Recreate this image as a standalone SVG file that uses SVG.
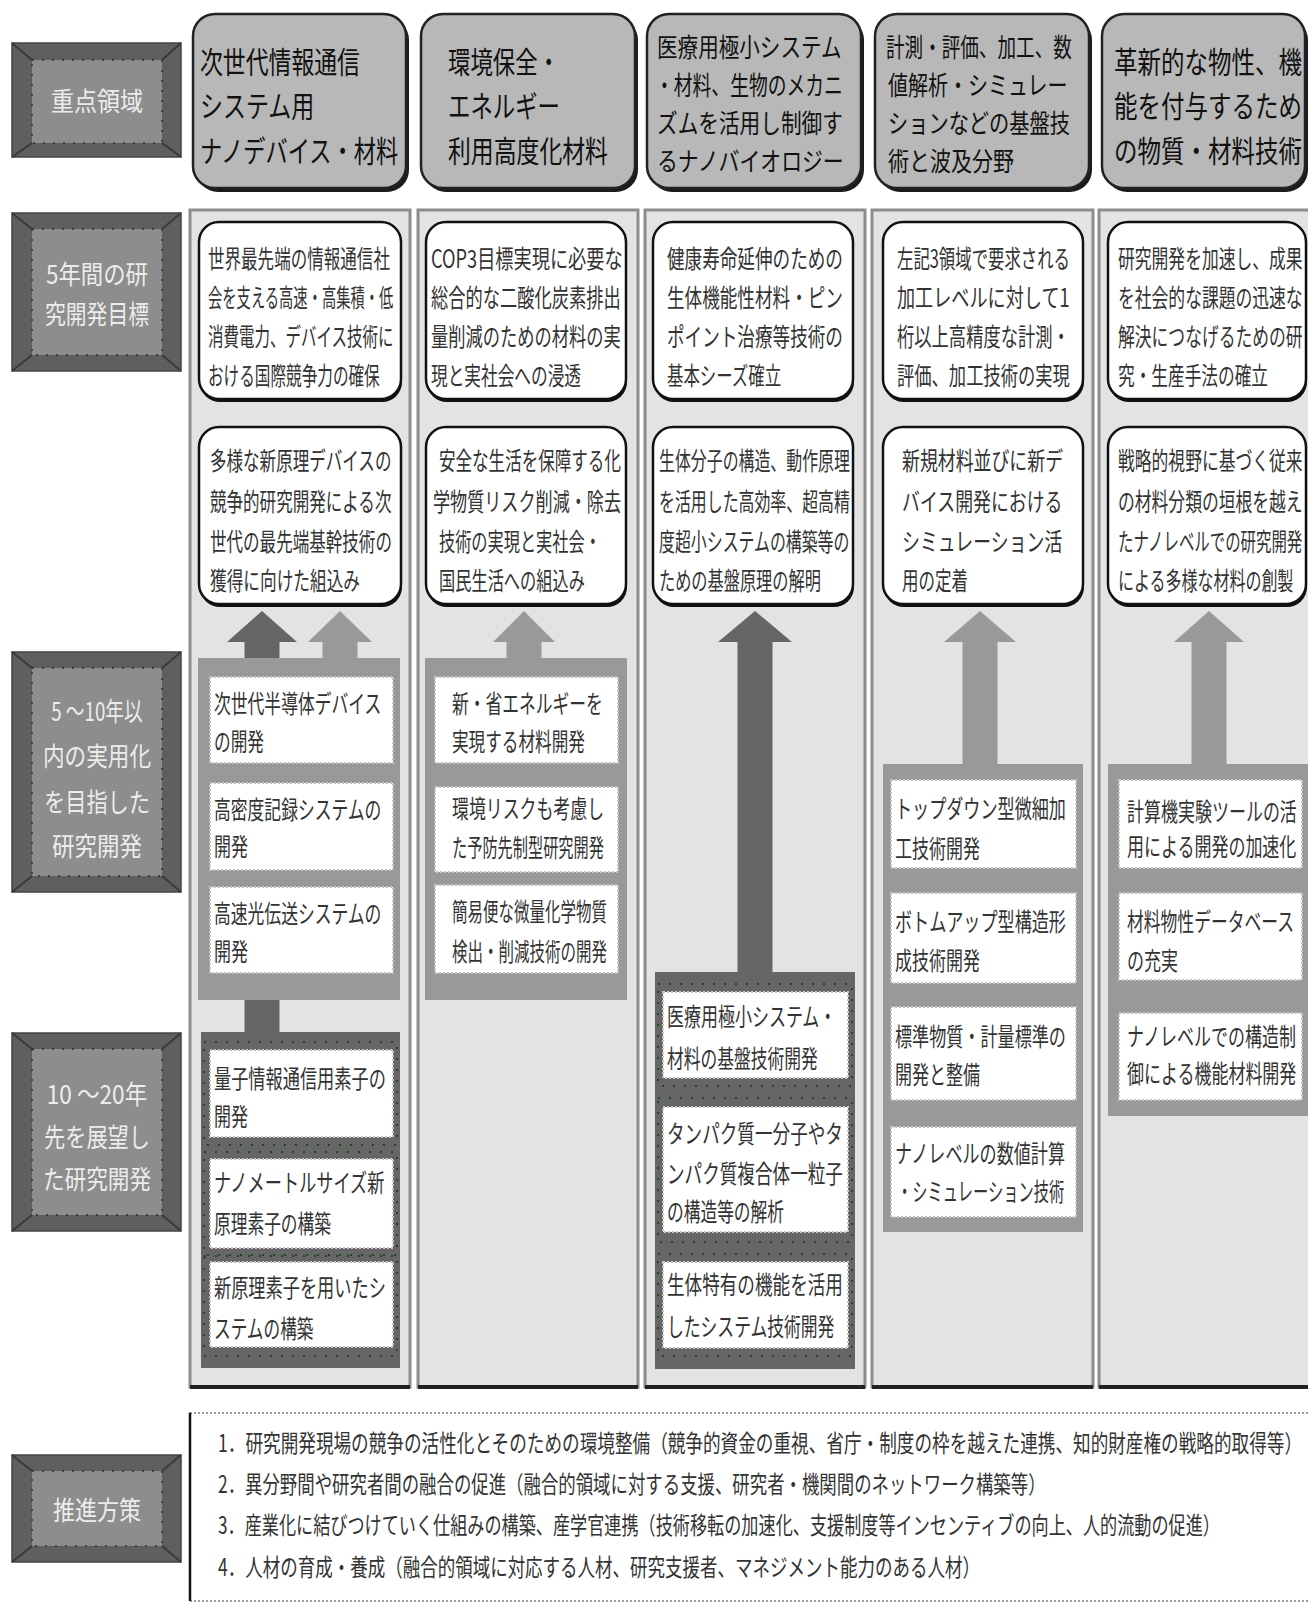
<svg xmlns="http://www.w3.org/2000/svg" width="1308" height="1608" viewBox="0 0 1308 1608">
<style>
.t{font-family:"Noto Sans CJK JP","Noto Sans CJK SC","Liberation Sans",sans-serif;fill:#262626;dominant-baseline:central}
.h{font-size:30px;fill:#111}
.h4{font-size:26px;fill:#111}
.g{font-size:25px;fill:#333}
.i{font-size:25px;fill:#333}
.b{font-size:24px;fill:#333}
.lt{font-size:26px;fill:#ececec;text-anchor:middle}
.lo{fill:#5f5f5f;stroke:#444;stroke-width:1.5}
.li{fill:#8d8d8d;stroke:#1e3e1e;stroke-width:1.5;stroke-dasharray:2 8}
.lb{stroke:#3a3a3a;stroke-width:2;fill:none}
.hs{fill:#1c1c1c}
.hb{fill:#b8b8b8;stroke:#222;stroke-width:2.5}
.col{fill:#e3e3e3;stroke:#8c8c8c;stroke-width:3}
.colb{stroke:#222;stroke-width:4}
.gs{fill:#111}
.gb{fill:#fff;stroke:#111;stroke-width:2.5}
.lp{fill:#999}
.dp{fill:#666}
.it{fill:#fff;stroke:#c4c4c4;stroke-width:2;stroke-dasharray:2 2}
.dd{fill:none;stroke:#1f4a1f;stroke-width:2;stroke-dasharray:2 9}
.ad{fill:#666}
.al{fill:#999}
.bx{fill:#fff;stroke:#9a9a9a;stroke-width:2;stroke-dasharray:2 2}
</style>

<!-- Left row labels -->
<g id="label-juten">
<rect class="lo" x="12" y="43" width="169" height="114"/>
<rect class="li" x="32" y="60" width="130" height="83"/>
<path class="lb" d="M12 43L32 60M181 43L162 60M12 157L32 143M181 157L162 143"/>
<text class="t lt" transform="translate(97,100) scale(0.885,1)">重点領域</text>
</g>
<g id="label-5nen">
<rect class="lo" x="12" y="213" width="169" height="158"/>
<rect class="li" x="32" y="229" width="130" height="126"/>
<path class="lb" d="M12 213L32 229M181 213L162 229M12 371L32 355M181 371L162 355"/>
<text class="t lt" transform="translate(97,273) scale(0.862,1)">5年間の研</text>
<text class="t lt" transform="translate(97,313) scale(0.8,1)">究開発目標</text>
</g>
<g id="label-5-10">
<rect class="lo" x="12" y="652" width="169" height="240"/>
<rect class="li" x="32" y="668" width="130" height="208"/>
<path class="lb" d="M12 652L32 668M181 652L162 668M12 892L32 876M181 892L162 876"/>
<text class="t lt" transform="translate(97,710) scale(0.72,1)">5 〜10年以</text>
<text class="t lt" transform="translate(97,755) scale(0.831,1)">内の実用化</text>
<text class="t lt" transform="translate(97,800) scale(0.815,1)">を目指した</text>
<text class="t lt" transform="translate(97,845) scale(0.865,1)">研究開発</text>
</g>
<g id="label-10-20">
<rect class="lo" x="12" y="1033" width="169" height="198"/>
<rect class="li" x="32" y="1049" width="130" height="166"/>
<path class="lb" d="M12 1033L32 1049M181 1033L162 1049M12 1231L32 1215M181 1231L162 1215"/>
<text class="t lt" transform="translate(97,1093) scale(0.87,1)">10 〜20年</text>
<text class="t lt" transform="translate(97,1135) scale(0.815,1)">先を展望し</text>
<text class="t lt" transform="translate(97,1178) scale(0.831,1)">た研究開発</text>
</g>
<g id="label-suishin">
<rect class="lo" x="12" y="1455" width="169" height="107"/>
<rect class="li" x="32" y="1471" width="130" height="75"/>
<path class="lb" d="M12 1455L32 1471M181 1455L162 1471M12 1562L32 1546M181 1562L162 1546"/>
<text class="t lt" transform="translate(97,1509) scale(0.846,1)">推進方策</text>
</g>

<!-- Column headers -->
<g id="head-1">
<rect class="hs" x="196" y="18" width="213" height="174" rx="22"/>
<rect class="hb" x="193" y="14" width="213" height="174" rx="22"/>
<text class="t h" transform="translate(200,60) scale(0.762,1)">次世代情報通信</text>
<text class="t h" transform="translate(200,104) scale(0.767,1)">システム用</text>
<text class="t h" transform="translate(200,149) scale(0.741,1)">ナノデバイス・材料</text>
</g>
<g id="head-2">
<rect class="hs" x="424" y="18" width="214" height="174" rx="22"/>
<rect class="hb" x="421" y="14" width="214" height="174" rx="22"/>
<text class="t h" transform="translate(448,60) scale(0.747,1)">環境保全・</text>
<text class="t h" transform="translate(448,104) scale(0.747,1)">エネルギー</text>
<text class="t h" transform="translate(448,149) scale(0.762,1)">利用高度化材料</text>
</g>
<g id="head-3">
<rect class="hs" x="650" y="18" width="214" height="174" rx="22"/>
<rect class="hb" x="647" y="14" width="214" height="174" rx="22"/>
<text class="t h4" transform="translate(657,46) scale(0.791,1)">医療用極小システム</text>
<text class="t h4" transform="translate(655,84) scale(0.723,1)">・材料、生物のメカニ</text>
<text class="t h4" transform="translate(657,122) scale(0.795,1)">ズムを活用し制御す</text>
<text class="t h4" transform="translate(657,160) scale(0.803,1)">るナノバイオロジー</text>
</g>
<g id="head-4">
<rect class="hs" x="878" y="18" width="214" height="174" rx="22"/>
<rect class="hb" x="875" y="14" width="214" height="174" rx="22"/>
<text class="t h4" transform="translate(886,46) scale(0.715,1)">計測・評価、加工、数</text>
<text class="t h4" transform="translate(888,84) scale(0.769,1)">値解析・シミュレー</text>
<text class="t h4" transform="translate(888,122) scale(0.778,1)">ションなどの基盤技</text>
<text class="t h4" transform="translate(888,160) scale(0.808,1)">術と波及分野</text>
</g>
<g id="head-5">
<rect class="hs" x="1105" y="18" width="203" height="174" rx="22"/>
<rect class="hb" x="1102" y="14" width="203" height="174" rx="22"/>
<text class="t h" transform="translate(1114,60) scale(0.783,1)">革新的な物性、機</text>
<text class="t h" transform="translate(1114,104) scale(0.783,1)">能を付与するため</text>
<text class="t h" transform="translate(1114,149) scale(0.783,1)">の物質・材料技術</text>
</g>

<!-- Column backgrounds -->
<g id="columns">
<rect class="col" x="190" y="210" width="220" height="1177"/>
<rect class="col" x="418" y="210" width="220" height="1177"/>
<rect class="col" x="645" y="210" width="220" height="1177"/>
<rect class="col" x="872" y="210" width="221" height="1177"/>
<rect class="col" x="1099" y="210" width="215" height="1177"/>
<path class="colb" d="M190 1387H410M418 1387H638M645 1387H865M872 1387H1093M1099 1387H1308"/>
</g>

<!-- Connectors (block arrows) -->
<g id="connectors">
<polygon class="ad" points="262,611 297,642 279.5,642 279.5,662 244.5,662 244.5,642 227,642"/>
<polygon class="al" points="340,611 372,642 357.5,642 357.5,662 322.5,662 322.5,642 308,642"/>
<rect class="ad" x="244.5" y="996" width="35" height="40"/>
<polygon class="al" points="524,611 555,642 541.5,642 541.5,662 506.5,662 506.5,642 493,642"/>
<polygon class="ad" points="755,611 792,642 772.5,642 772.5,976 737.5,976 737.5,642 718,642"/>
<polygon class="al" points="980,611 1016,642 997.5,642 997.5,768 962.5,768 962.5,642 944,642"/>
<polygon class="al" points="1209,611 1244,642 1226.5,642 1226.5,768 1191.5,768 1191.5,642 1174,642"/>
</g>

<!-- 5-year goal boxes -->
<g id="goal-1a">
<rect class="gs" x="200" y="224" width="202" height="178" rx="20"/>
<rect class="gb" x="199" y="222" width="202" height="177" rx="20"/>
<text class="t g" transform="translate(208,257) scale(0.662,1)">世界最先端の情報通信社</text>
<text class="t g" transform="translate(208,296) scale(0.572,1)">会を支える高速・高集積・低</text>
<text class="t g" transform="translate(208,335) scale(0.62,1)">消費電力、デバイス技術に</text>
<text class="t g" transform="translate(208,374) scale(0.625,1)">おける国際競争力の確保</text>
</g>
<g id="goal-1b">
<rect class="gs" x="200" y="429" width="202" height="178" rx="20"/>
<rect class="gb" x="199" y="427" width="202" height="177" rx="20"/>
<text class="t g" transform="translate(210,459) scale(0.662,1)">多様な新原理デバイスの</text>
<text class="t g" transform="translate(210,500) scale(0.662,1)">競争的研究開発による次</text>
<text class="t g" transform="translate(210,540) scale(0.662,1)">世代の最先端基幹技術の</text>
<text class="t g" transform="translate(210,579) scale(0.667,1)">獲得に向けた組込み</text>
</g>
<g id="goal-2a">
<rect class="gs" x="427" y="224" width="200" height="178" rx="20"/>
<rect class="gb" x="426" y="222" width="200" height="177" rx="20"/>
<text class="t g" transform="translate(431,257) scale(0.728,1)">COP3目標実現に必要な</text>
<text class="t g" transform="translate(431,296) scale(0.691,1)">総合的な二酸化炭素排出</text>
<text class="t g" transform="translate(431,335) scale(0.691,1)">量削減のための材料の実</text>
<text class="t g" transform="translate(431,374) scale(0.667,1)">現と実社会への浸透</text>
</g>
<g id="goal-2b">
<rect class="gs" x="427" y="429" width="200" height="178" rx="20"/>
<rect class="gb" x="426" y="427" width="200" height="177" rx="20"/>
<text class="t g" transform="translate(439,459) scale(0.662,1)">安全な生活を保障する化</text>
<text class="t g" transform="translate(433,500) scale(0.684,1)">学物質リスク削減・除去</text>
<text class="t g" transform="translate(439,540) scale(0.648,1)">技術の実現と実社会・</text>
<text class="t g" transform="translate(439,579) scale(0.649,1)">国民生活への組込み</text>
</g>
<g id="goal-3a">
<rect class="gs" x="654" y="224" width="200" height="178" rx="20"/>
<rect class="gb" x="653" y="222" width="200" height="177" rx="20"/>
<text class="t g" transform="translate(667,257) scale(0.704,1)">健康寿命延伸のための</text>
<text class="t g" transform="translate(667,296) scale(0.704,1)">生体機能性材料・ピン</text>
<text class="t g" transform="translate(667,335) scale(0.704,1)">ポイント治療等技術の</text>
<text class="t g" transform="translate(667,374) scale(0.657,1)">基本シーズ確立</text>
</g>
<g id="goal-3b">
<rect class="gs" x="654" y="429" width="200" height="178" rx="20"/>
<rect class="gb" x="653" y="427" width="200" height="177" rx="20"/>
<text class="t g" transform="translate(659,459) scale(0.637,1)">生体分子の構造、動作原理</text>
<text class="t g" transform="translate(659,500) scale(0.637,1)">を活用した高効率、超高精</text>
<text class="t g" transform="translate(659,540) scale(0.637,1)">度超小システムの構築等の</text>
<text class="t g" transform="translate(659,579) scale(0.648,1)">ための基盤原理の解明</text>
</g>
<g id="goal-4a">
<rect class="gs" x="884" y="224" width="200" height="178" rx="20"/>
<rect class="gb" x="883" y="222" width="200" height="177" rx="20"/>
<text class="t g" transform="translate(897,257) scale(0.656,1)">左記3領域で要求される</text>
<text class="t g" transform="translate(897,296) scale(0.725,1)">加工レベルに対して1</text>
<text class="t g" transform="translate(897,335) scale(0.692,1)">桁以上高精度な計測・</text>
<text class="t g" transform="translate(897,374) scale(0.692,1)">評価、加工技術の実現</text>
</g>
<g id="goal-4b">
<rect class="gs" x="884" y="429" width="200" height="178" rx="20"/>
<rect class="gb" x="883" y="427" width="200" height="177" rx="20"/>
<text class="t g" transform="translate(902,459) scale(0.716,1)">新規材料並びに新デ</text>
<text class="t g" transform="translate(902,500) scale(0.716,1)">バイス開発における</text>
<text class="t g" transform="translate(902,540) scale(0.716,1)">シミュレーション活</text>
<text class="t g" transform="translate(902,579) scale(0.66,1)">用の定着</text>
</g>
<g id="goal-5a">
<rect class="gs" x="1109" y="224" width="198" height="178" rx="20"/>
<rect class="gb" x="1108" y="222" width="198" height="177" rx="20"/>
<text class="t g" transform="translate(1118,257) scale(0.672,1)">研究開発を加速し、成果</text>
<text class="t g" transform="translate(1118,296) scale(0.672,1)">を社会的な課題の迅速な</text>
<text class="t g" transform="translate(1118,335) scale(0.672,1)">解決につなげるための研</text>
<text class="t g" transform="translate(1118,374) scale(0.667,1)">究・生産手法の確立</text>
</g>
<g id="goal-5b">
<rect class="gs" x="1109" y="429" width="198" height="178" rx="20"/>
<rect class="gb" x="1108" y="427" width="198" height="177" rx="20"/>
<text class="t g" transform="translate(1118,459) scale(0.672,1)">戦略的視野に基づく従来</text>
<text class="t g" transform="translate(1118,500) scale(0.672,1)">の材料分類の垣根を越え</text>
<text class="t g" transform="translate(1118,540) scale(0.617,1)">たナノレベルでの研究開発</text>
<text class="t g" transform="translate(1118,579) scale(0.64,1)">による多様な材料の創製</text>
</g>

<!-- Column 1: practical (5-10 yr) -->
<g id="panel-1-mid">
<rect class="lp" x="198" y="658" width="202" height="342"/>
<rect class="it" x="210" y="677" width="183" height="86"/>
<text class="t i" transform="translate(214,702) scale(0.672,1)">次世代半導体デバイス</text>
<text class="t i" transform="translate(214,740) scale(0.667,1)">の開発</text>
<rect class="it" x="210" y="783" width="183" height="87"/>
<text class="t i" transform="translate(214,808) scale(0.672,1)">高密度記録システムの</text>
<text class="t i" transform="translate(214,845) scale(0.68,1)">開発</text>
<rect class="it" x="210" y="887" width="183" height="86"/>
<text class="t i" transform="translate(214,912) scale(0.672,1)">高速光伝送システムの</text>
<text class="t i" transform="translate(214,950) scale(0.68,1)">開発</text>
</g>
<!-- Column 1: long term (10-20 yr) -->
<g id="panel-1-long">
<rect class="dp" x="201" y="1032" width="199" height="336"/>
<rect class="dd" x="204" y="1042" width="193" height="103"/>
<rect class="dd" x="204" y="1152" width="193" height="103"/>
<rect class="dd" x="204" y="1256" width="193" height="100"/>
<rect class="it" x="210" y="1050" width="183" height="87"/>
<text class="t i" transform="translate(214,1077) scale(0.688,1)">量子情報通信用素子の</text>
<text class="t i" transform="translate(214,1115) scale(0.68,1)">開発</text>
<rect class="it" x="210" y="1159" width="183" height="89"/>
<text class="t i" transform="translate(214,1181) scale(0.688,1)">ナノメートルサイズ新</text>
<text class="t i" transform="translate(214,1222) scale(0.669,1)">原理素子の構築</text>
<rect class="it" x="210" y="1262" width="183" height="85"/>
<text class="t i" transform="translate(214,1286) scale(0.688,1)">新原理素子を用いたシ</text>
<text class="t i" transform="translate(214,1327) scale(0.667,1)">ステムの構築</text>
</g>

<!-- Column 2 -->
<g id="panel-2-mid">
<rect class="lp" x="425" y="658" width="202" height="342"/>
<rect class="it" x="435" y="677" width="183" height="86"/>
<text class="t i" transform="translate(452,702) scale(0.671,1)">新・省エネルギーを</text>
<text class="t i" transform="translate(452,740) scale(0.665,1)">実現する材料開発</text>
<rect class="it" x="435" y="787" width="183" height="85"/>
<text class="t i" transform="translate(452,807) scale(0.676,1)">環境リスクも考慮し</text>
<text class="t i" transform="translate(452,846) scale(0.608,1)">た予防先制型研究開発</text>
<rect class="it" x="435" y="885" width="183" height="88"/>
<text class="t i" transform="translate(452,910) scale(0.62,1)">簡易便な微量化学物質</text>
<text class="t i" transform="translate(452,950) scale(0.62,1)">検出・削減技術の開発</text>
</g>

<!-- Column 3 -->
<g id="panel-3-long">
<rect class="dp" x="655" y="972" width="200" height="397"/>
<rect class="dd" x="658" y="984" width="194" height="102"/>
<rect class="dd" x="658" y="1098" width="194" height="144"/>
<rect class="dd" x="658" y="1254" width="194" height="102"/>
<rect class="it" x="663" y="992" width="185" height="86"/>
<text class="t i" transform="translate(667,1015) scale(0.68,1)">医療用極小システム・</text>
<text class="t i" transform="translate(667,1057) scale(0.671,1)">材料の基盤技術開発</text>
<rect class="it" x="663" y="1107" width="185" height="125"/>
<text class="t i" transform="translate(667,1132) scale(0.704,1)">タンパク質一分子やタ</text>
<text class="t i" transform="translate(667,1172) scale(0.704,1)">ンパク質複合体一粒子</text>
<text class="t i" transform="translate(667,1210) scale(0.669,1)">の構造等の解析</text>
<rect class="it" x="663" y="1262" width="185" height="86"/>
<text class="t i" transform="translate(667,1283) scale(0.704,1)">生体特有の機能を活用</text>
<text class="t i" transform="translate(667,1325) scale(0.672,1)">したシステム技術開発</text>
</g>

<!-- Column 4 -->
<g id="panel-4-mid">
<rect class="lp" x="883" y="764" width="200" height="468"/>
<rect class="it" x="891" y="780" width="185" height="88"/>
<text class="t i" transform="translate(895,807) scale(0.684,1)">トップダウン型微細加</text>
<text class="t i" transform="translate(895,847) scale(0.68,1)">工技術開発</text>
<rect class="it" x="891" y="893" width="185" height="90"/>
<text class="t i" transform="translate(895,920) scale(0.684,1)">ボトムアップ型構造形</text>
<text class="t i" transform="translate(895,959) scale(0.68,1)">成技術開発</text>
<rect class="it" x="891" y="1007" width="185" height="93"/>
<text class="t i" transform="translate(895,1035) scale(0.684,1)">標準物質・計量標準の</text>
<text class="t i" transform="translate(895,1073) scale(0.68,1)">開発と整備</text>
<rect class="it" x="891" y="1127" width="185" height="90"/>
<text class="t i" transform="translate(895,1152) scale(0.684,1)">ナノレベルの数値計算</text>
<text class="t i" transform="translate(897,1190) scale(0.611,1)">・シミュレーション技術</text>
</g>

<!-- Column 5 -->
<g id="panel-5-mid">
<rect class="lp" x="1108" y="764" width="200" height="352"/>
<rect class="it" x="1119" y="780" width="183" height="88"/>
<text class="t i" transform="translate(1127,810) scale(0.68,1)">計算機実験ツールの活</text>
<text class="t i" transform="translate(1127,845) scale(0.68,1)">用による開発の加速化</text>
<rect class="it" x="1119" y="893" width="183" height="87"/>
<text class="t i" transform="translate(1127,920) scale(0.672,1)">材料物性データベース</text>
<text class="t i" transform="translate(1127,959) scale(0.68,1)">の充実</text>
<rect class="it" x="1119" y="1013" width="183" height="87"/>
<text class="t i" transform="translate(1127,1035) scale(0.68,1)">ナノレベルでの構造制</text>
<text class="t i" transform="translate(1127,1072) scale(0.68,1)">御による機能材料開発</text>
</g>

<!-- Promotion measures -->
<g id="measures">
<rect class="bx" x="190" y="1413" width="1125" height="188"/>
<path d="M190 1413V1601" stroke="#111" stroke-width="2.5"/>
<text class="t b" transform="translate(218,1442) scale(0.7345,1)">1．研究開発現場の競争の活性化とそのための環境整備（競争的資金の重視、省庁・制度の枠を越えた連携、知的財産権の戦略的取得等）</text>
<text class="t b" transform="translate(218,1483) scale(0.7256,1)">2．異分野間や研究者間の融合の促進（融合的領域に対する支援、研究者・機関間のネットワーク構築等）</text>
<text class="t b" transform="translate(218,1524) scale(0.714,1)">3．産業化に結びつけていく仕組みの構築、産学官連携（技術移転の加速化、支援制度等インセンティブの向上、人的流動の促進）</text>
<text class="t b" transform="translate(218,1566) scale(0.729,1)">4．人材の育成・養成（融合的領域に対応する人材、研究支援者、マネジメント能力のある人材）</text>
</g>
</svg>
